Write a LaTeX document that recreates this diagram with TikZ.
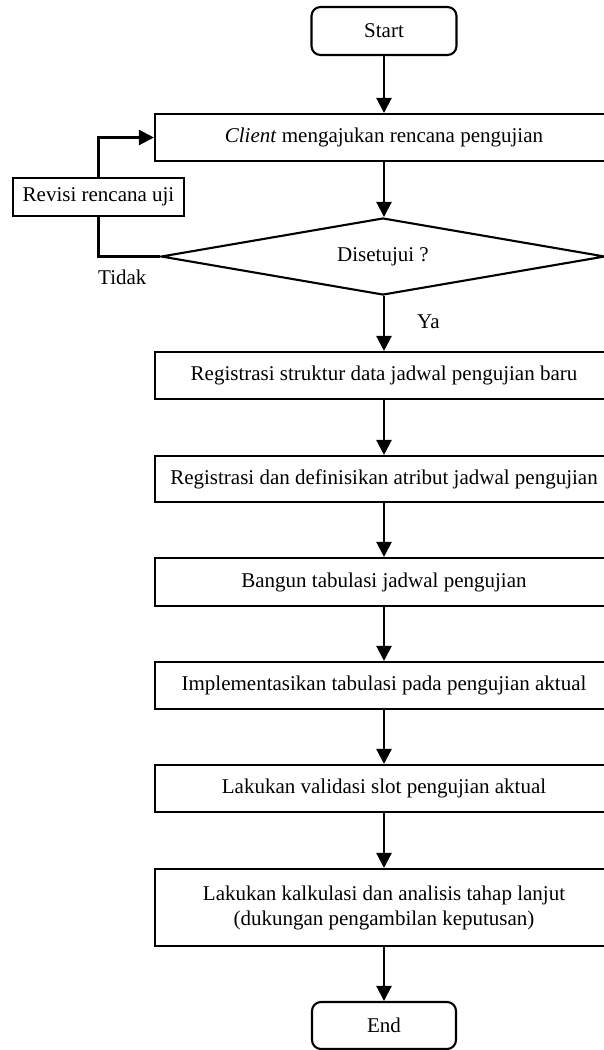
\documentclass[tikz,border=0pt]{standalone}
\usepackage{fontspec}
\setmainfont{Liberation Serif}
\usetikzlibrary{arrows.meta,shapes.geometric}

\begin{document}
\begin{tikzpicture}[x=1pt,y=-1pt,
  every node/.style={font=\fontsize{21}{25}\selectfont},
  terminal/.style={draw,line width=2.1pt,rounded corners=9pt,minimum width=145pt,minimum height=48pt,inner sep=0pt},
  process/.style={draw,line width=2.1pt,minimum width=458pt,minimum height=47pt,inner sep=0pt,align=center},
  sidebox/.style={draw,line width=2.1pt,minimum width=171pt,minimum height=38pt,inner sep=0pt},
  decision/.style={draw,line width=2.1pt,diamond,minimum width=444pt,minimum height=77pt,inner sep=0pt},
  lbl/.style={inner sep=0pt,anchor=base west},
  flow/.style={line width=2.3pt,-{Triangle[width=15pt,length=15pt]}},
  link/.style={line width=2.3pt}]
\useasboundingbox (0,0) rectangle (604,1050);

% flow steps
\node[terminal] (start) at (384,31) {Start};
\node[process] (client) at (384,137.5) {\textit{Client} mengajukan rencana pengujian};
\node[sidebox] (revisi) at (98.5,197) {Revisi rencana uji};
\node[decision] (dec) at (383,256.5) {};
\node (dectext) at (383,257) {Disetujui ?};
\node[process] (s1) at (384,375.5) {Registrasi struktur data jadwal pengujian baru};
\node[process,minimum height=46pt] (s2) at (384,479) {Registrasi dan definisikan atribut jadwal pengujian};
\node[process,minimum height=48pt] (s3) at (384,582) {Bangun tabulasi jadwal pengujian};
\node[process] (s4) at (384,685.5) {Implementasikan tabulasi pada pengujian aktual};
\node[process] (s5) at (384,788.5) {Lakukan validasi slot pengujian aktual};
\node[process,minimum height=77pt] (s6) at (384,907.5) {Lakukan kalkulasi dan analisis tahap lanjut\\(dukungan pengambilan keputusan)};
\node[terminal,minimum width=144pt,minimum height=47pt] (end) at (384,1025.5) {End};

% branch labels
\node[lbl] (tidak) at (98,284) {Tidak};
\node[lbl] (ya) at (417,328) {Ya};

% connectors
\draw[flow] (start) -- (client);
\draw[flow] (client.south) -- (client.south |- dec.north);
\draw[flow] (dec.south -| s1.north) -- (s1);
\draw[flow] (s1) -- (s2);
\draw[flow] (s2) -- (s3);
\draw[flow] (s3) -- (s4);
\draw[flow] (s4) -- (s5);
\draw[flow] (s5) -- (s6);
\draw[flow] (s6) -- (end);
\draw[link] (dec.west) -| (revisi.south);
\draw[flow] (revisi.north) |- (client.west);
\end{tikzpicture}
\end{document}
